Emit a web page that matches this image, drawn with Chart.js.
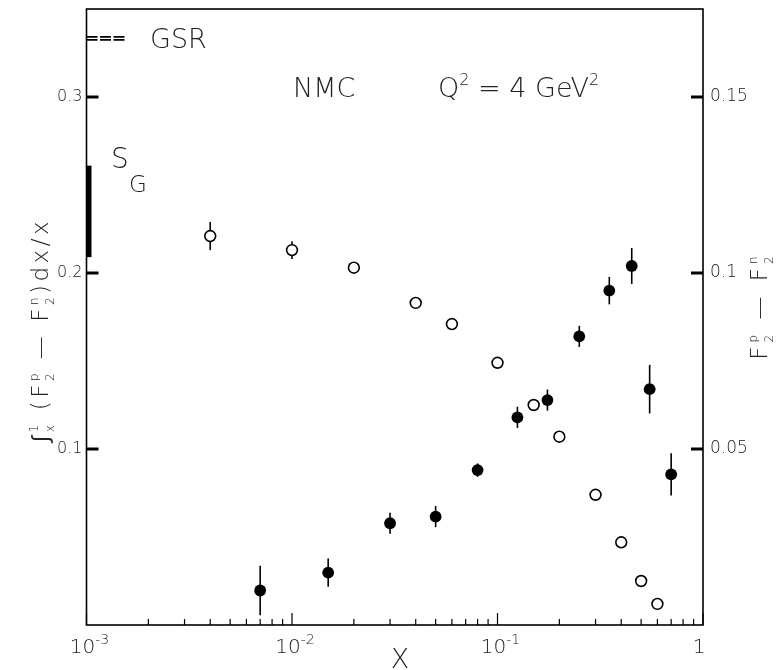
<!DOCTYPE html>
<html>
<head>
<meta charset="utf-8">
<script src="https://cdn.jsdelivr.net/npm/chart.js@4/dist/chart.umd.min.js"></script>
<style>
html, body { margin: 0; padding: 0; background: #fff; }
#chart { display: block; }
</style>
</head>
<body>
<canvas id="chart" width="783" height="670" style="width:783px;height:670px"></canvas>
<script>
// integral of (F2p - F2n) dx/x from x to 1 (open circles, left axis)
const integral_x = [0.004, 0.01, 0.02, 0.04, 0.06, 0.1, 0.15, 0.2, 0.3, 0.4, 0.5, 0.6];
const integral_y = [0.221, 0.213, 0.203, 0.183, 0.171, 0.149, 0.125, 0.107, 0.074, 0.047, 0.025, 0.012];
const integral_err = [0.008, 0.005, 0.001, 0, 0, 0, 0, 0, 0, 0, 0, 0];

// F2p - F2n (filled circles, right axis)
const diff_x = [0.007, 0.015, 0.03, 0.05, 0.08, 0.125, 0.175, 0.25, 0.35, 0.45, 0.55, 0.7];
const diff_y = [0.0098, 0.0149, 0.0289, 0.0308, 0.044, 0.059, 0.0639, 0.082, 0.095, 0.102, 0.067, 0.0428];
const diff_err = [0.007, 0.004, 0.003, 0.003, 0.0019, 0.003, 0.003, 0.003, 0.0039, 0.0051, 0.0069, 0.006];

const left_ticks = [0.1, 0.2, 0.3];
const right_ticks = [0.05, 0.1, 0.15];
const decade_ticks = [0.001, 0.01, 0.1, 1];
const decade_labels = [["10", "-3"], ["10", "-2"], ["10", "-1"], ["1", ""]];

const gsr_value = 1 / 3;       // Gottfried sum rule
const sg_value = 0.235;        // NMC S_G
const sg_error = 0.026;

const FONT = '"DejaVu Sans", sans-serif';
const W = "200 ";
const INK = "#222";

// minor ticks 2..9 in each decade
const minor_ticks = [];
for (let d of [0.001, 0.01, 0.1]) {
    for (let k = 2; k <= 9; k++) minor_ticks.push(d * k);
}

function richText(ctx, parts, x, y, base, small, draw) {
    let cx = x;
    for (let [t, sup, sub] of parts) {
        if (t) {
            ctx.font = `${W}${base}px ${FONT}`;
            if (draw) ctx.fillText(t, cx, y);
            cx += ctx.measureText(t).width;
        }
        let w = 0;
        ctx.font = `${W}${small}px ${FONT}`;
        if (sup) {
            if (draw) ctx.fillText(sup, cx, y - base * 0.45);
            w = Math.max(w, ctx.measureText(sup).width);
        }
        if (sub) {
            if (draw) ctx.fillText(sub, cx, y + base * 0.28);
            w = Math.max(w, ctx.measureText(sub).width);
        }
        cx += w;
    }
    return cx - x;
}

function centeredRich(ctx, parts, cx, y, base, small) {
    const w = richText(ctx, parts, 0, 0, base, small, false);
    richText(ctx, parts, cx - w / 2, y, base, small, true);
}

const errorBars = {
    id: "errorBars",
    beforeDatasetsDraw(chart) {
        const ctx = chart.ctx;
        const xs = chart.scales.x;
        ctx.save();
        ctx.strokeStyle = "#000";
        ctx.lineWidth = 1.6;
        const sets = [
            [integral_x, integral_y, integral_err, chart.scales.y],
            [diff_x, diff_y, diff_err, chart.scales.y2],
        ];
        for (let [xv, yv, ev, ys] of sets) {
            for (let i = 0; i < xv.length; i++) {
                if (!ev[i]) continue;
                const px = xs.getPixelForValue(xv[i]);
                ctx.beginPath();
                ctx.moveTo(px, ys.getPixelForValue(yv[i] - ev[i]));
                ctx.lineTo(px, ys.getPixelForValue(yv[i] + ev[i]));
                ctx.stroke();
            }
        }
        ctx.restore();
    },
};

const decorations = {
    id: "decorations",
    afterDraw(chart) {
        const ctx = chart.ctx;
        const a = chart.chartArea;
        const xs = chart.scales.x, ys = chart.scales.y, ys2 = chart.scales.y2;
        ctx.save();

        // frame
        ctx.strokeStyle = "#000";
        ctx.lineWidth = 1.6;
        ctx.strokeRect(a.left, a.top, a.right - a.left, a.bottom - a.top);

        // inward y ticks
        ctx.lineWidth = 3;
        for (let v of left_ticks) {
            const py = ys.getPixelForValue(v);
            ctx.beginPath(); ctx.moveTo(a.left, py); ctx.lineTo(a.left + 12, py); ctx.stroke();
        }
        for (let v of right_ticks) {
            const py = ys2.getPixelForValue(v);
            ctx.beginPath(); ctx.moveTo(a.right, py); ctx.lineTo(a.right - 12, py); ctx.stroke();
        }

        // inward x ticks
        ctx.lineWidth = 1.2;
        for (let v of decade_ticks) {
            const px = xs.getPixelForValue(v);
            ctx.beginPath(); ctx.moveTo(px, a.bottom); ctx.lineTo(px, a.bottom - 12); ctx.stroke();
        }
        for (let v of minor_ticks) {
            const px = xs.getPixelForValue(v);
            ctx.beginPath(); ctx.moveTo(px, a.bottom); ctx.lineTo(px, a.bottom - 6); ctx.stroke();
        }

        // x tick labels 10^n
        ctx.fillStyle = INK;
        ctx.textBaseline = "alphabetic";
        decade_ticks.forEach((v, i) => {
            const px = xs.getPixelForValue(v);
            const parts = [[decade_labels[i][0], decade_labels[i][1], ""]];
            const shift = decade_labels[i][1] ? 3 : -4;
            centeredRich(ctx, parts, px + shift, 653, 20, 14);
        });

        // x title
        ctx.font = `${W}27px ${FONT}`;
        ctx.textAlign = "center";
        ctx.fillText("X", 400, 668);
        ctx.textAlign = "left";

        // GSR marker: double dashed line at 1/3
        const gy = ys.getPixelForValue(gsr_value);
        ctx.lineWidth = 1.7;
        ctx.setLineDash([11, 2.5]);
        for (let off of [-1.5, 1.5]) {
            ctx.beginPath(); ctx.moveTo(a.left, gy + off); ctx.lineTo(a.left + 40, gy + off); ctx.stroke();
        }
        ctx.setLineDash([]);
        ctx.font = `${W}27px ${FONT}`;
        ctx.fillText("GSR", 150, 48);

        // S_G band
        ctx.lineWidth = 5;
        ctx.beginPath();
        ctx.moveTo(a.left + 2.5, ys.getPixelForValue(sg_value + sg_error));
        ctx.lineTo(a.left + 2.5, ys.getPixelForValue(sg_value - sg_error));
        ctx.stroke();
        ctx.font = `${W}28px ${FONT}`;
        ctx.fillText("S", 111, 168);
        ctx.font = `${W}23px ${FONT}`;
        ctx.fillText("G", 129, 192);

        // in-plot labels
        ctx.font = `${W}27px ${FONT}`;
        ctx.fillText("NMC", 293, 97);
        richText(ctx, [["Q", "2", ""], [" = 4 GeV", "2", ""]], 438, 97, 27, 16, true);

        // left axis title
        ctx.save();
        ctx.letterSpacing = "3.5px";
        ctx.translate(48, 330);
        ctx.rotate(-Math.PI / 2);
        centeredRich(ctx, [["\u222B", "1", "x"], [" (F", "p", "2"], [" \u2014 F", "n", "2"], [")dx/x", "", ""]], 0, 0, 23, 12);
        ctx.restore();

        // right axis title
        ctx.save();
        ctx.letterSpacing = "4px";
        ctx.translate(767, 306);
        ctx.rotate(-Math.PI / 2);
        centeredRich(ctx, [["F", "p", "2"], [" \u2014 F", "n", "2"]], 0, 0, 23, 12);
        ctx.restore();

        ctx.restore();
    },
};

const ctx = document.getElementById("chart");

new Chart(ctx, {
    type: "scatter",
    data: {
        datasets: [
            {
                label: "integral",
                data: integral_x.map((x, i) => ({ x: x, y: integral_y[i] })),
                yAxisID: "y",
                pointRadius: 5.4,
                pointBackgroundColor: "#fff",
                pointBorderColor: "#000",
                pointBorderWidth: 1.6,
            },
            {
                label: "F2p-F2n",
                data: diff_x.map((x, i) => ({ x: x, y: diff_y[i] })),
                yAxisID: "y2",
                pointRadius: 5.9,
                pointBackgroundColor: "#000",
                pointBorderColor: "#000",
                pointBorderWidth: 0,
            },
        ],
    },
    options: {
        responsive: false,
        animation: false,
        devicePixelRatio: 1,
        layout: { padding: { top: 9, left: 0, right: 0, bottom: 0 } },
        plugins: {
            legend: { display: false },
            tooltip: { enabled: false },
        },
        scales: {
            x: {
                type: "logarithmic",
                min: 0.001,
                max: 1,
                position: "bottom",
                grid: { display: false, drawTicks: false },
                border: { display: false },
                ticks: { display: false },
                afterFit(s) { s.height = 45; s.paddingLeft = 0; s.paddingRight = 0; },
            },
            y: {
                min: 0,
                max: 0.35,
                position: "left",
                grid: { display: false, drawTicks: false },
                border: { display: false },
                afterBuildTicks(s) { s.ticks = left_ticks.map((v) => ({ value: v })); },
                ticks: {
                    padding: 4,
                    color: INK,
                    font: { family: FONT, size: 16, weight: 200 },
                    callback: (v) => String(v),
                },
                afterFit(s) { s.width = 86.5; s.paddingTop = 0; s.paddingBottom = 0; },
            },
            y2: {
                min: 0,
                max: 0.175,
                position: "right",
                grid: { display: false, drawTicks: false },
                border: { display: false },
                afterBuildTicks(s) { s.ticks = right_ticks.map((v) => ({ value: v })); },
                ticks: {
                    padding: 7,
                    color: INK,
                    font: { family: FONT, size: 17, weight: 200 },
                    callback: (v) => String(v),
                },
                afterFit(s) { s.width = 80; s.paddingTop = 0; s.paddingBottom = 0; },
            },
        },
    },
    plugins: [errorBars, decorations],
});
</script>
</body>
</html>
